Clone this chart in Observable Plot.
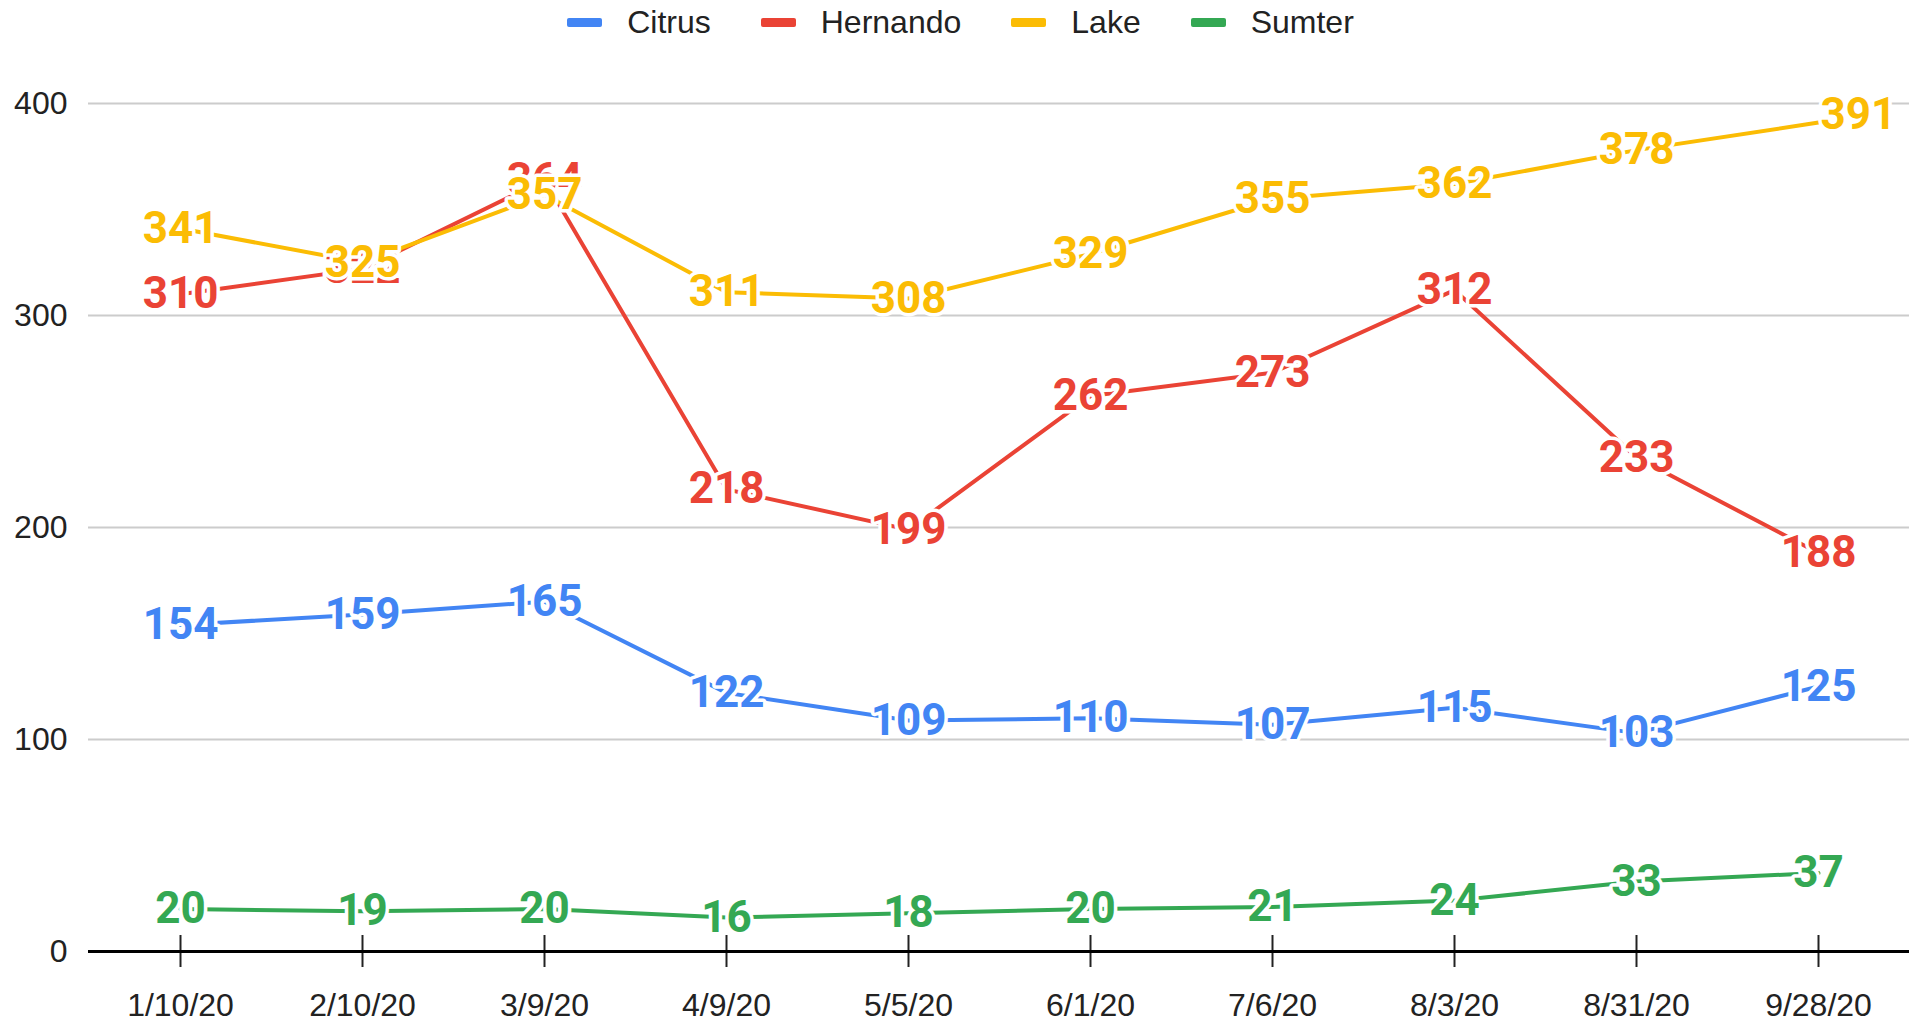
<!DOCTYPE html>
<html>
<head>
<meta charset="utf-8">
<script src="https://cdn.jsdelivr.net/npm/d3@7"></script>
<script src="https://cdn.jsdelivr.net/npm/@observablehq/plot@0.6"></script>
<style>
  html, body { margin: 0; padding: 0; background: #fff; }
  body { width: 1921px; height: 1025px; overflow: hidden; font-family: "Liberation Sans", Arial, sans-serif; }
  #legend { height: 45px; display: flex; justify-content: center; align-items: center; gap: 50px; color: #222; font-size: 32px; }
  .item { display: flex; align-items: center; gap: 25px; }
  .sw { width: 35px; height: 9px; border-radius: 2px; }
</style>
</head>
<body>
<div id="legend"></div>
<div id="chart"></div>
<script>
const dates = ["1/10/20", "2/10/20", "3/9/20", "4/9/20", "5/5/20", "6/1/20", "7/6/20", "8/3/20", "8/31/20", "9/28/20"];
const seriesNames = ["Citrus", "Hernando", "Lake", "Sumter"];
const citrus   = [154, 159, 165, 122, 109, 110, 107, 115, 103, 125];
const hernando = [310, 322, 364, 218, 199, 262, 273, 312, 233, 188];
const lake     = [341, 325, 357, 311, 308, 329, 355, 362, 378, 391];
const sumter   = [20, 19, 20, 16, 18, 20, 21, 24, 33, 37];
const colors = ["#4285F4", "#EA4335", "#FBBC04", "#34A853"];
const yTicks = [0, 100, 200, 300, 400];

const values = [citrus, hernando, lake, sumter];
const data = seriesNames.flatMap((s, i) => dates.map((d, j) => ({series: s, date: d, value: values[i][j]})));
const lastDate = dates[dates.length - 1];
const isEdge = d => d.series === "Lake" && d.date === lastDate;

const legend = document.getElementById("legend");
seriesNames.forEach((s, i) => {
  const it = document.createElement("div");
  it.className = "item";
  it.innerHTML = `<div class="sw" style="background:${colors[i]}"></div><span>${s}</span>`;
  legend.appendChild(it);
});

const labelStyle = {x: "date", y: "value", text: d => String(d.value), fill: "series",
  stroke: "white", strokeWidth: 7, fontSize: 44, fontWeight: "bold", fontFamily: "Roboto, sans-serif"};

const chart = Plot.plot({
  width: 1921,
  height: 980,
  marginTop: 58,
  marginBottom: 74,
  marginLeft: 88,
  marginRight: 12,
  style: {fontFamily: "'Liberation Sans', Arial, sans-serif", fontSize: "32px", background: "white", color: "#222"},
  x: {type: "point", domain: dates, padding: 0.5, label: null},
  y: {domain: [0, 400], label: null},
  color: {domain: seriesNames, range: colors},
  marks: [
    Plot.gridY({ticks: yTicks.filter(t => t > 0), stroke: "#ccc", strokeOpacity: 1, strokeWidth: 2}),
    Plot.axisY({ticks: yTicks, tickSize: 0, tickPadding: 21, fontSize: 32, label: null}),
    Plot.axisX({tickSize: 32, dy: -16, tickPadding: 26, fontSize: 32, label: null, strokeWidth: 2}),
    Plot.ruleY([0], {stroke: "#000", strokeWidth: 3}),
    Plot.line(data, {x: "date", y: "value", z: "series", stroke: "series", strokeWidth: 4}),
    Plot.text(data.filter(d => !isEdge(d)), labelStyle),
    Plot.text(data.filter(isEdge), {...labelStyle, textAnchor: "start", dx: 2, dy: -8})
  ]
});
document.getElementById("chart").appendChild(chart);
</script>
</body>
</html>
